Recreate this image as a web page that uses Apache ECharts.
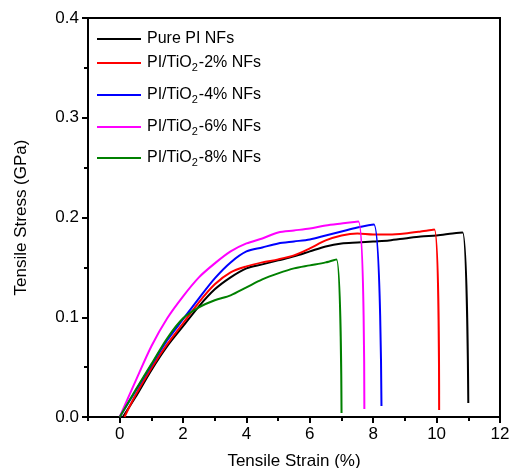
<!DOCTYPE html>
<html><head><meta charset="utf-8">
<script src="https://cdn.jsdelivr.net/npm/echarts@6/dist/echarts.min.js"></script>
<style>html,body{margin:0;padding:0;background:#fff}#c{width:511px;height:468px}</style>
</head><body><div id="c"></div>
<script>
const seriesNames = ['Pure PI NFs','PI/TiO2-2% NFs','PI/TiO2-4% NFs','PI/TiO2-6% NFs','PI/TiO2-8% NFs'];
const colors = ['#000000','#ff0000','#0000ff','#ff00ff','#008000'];
const pureX = [0.1,0.5,1.0,1.5,2.0,2.5,3.0,3.5,4.0,4.5,5.0,5.5,6.0,6.5,7.0,7.5,8.0,8.5,9.0,9.5,10.0,10.5,10.82,11.0];
const pureY = [0,0.020,0.047,0.071,0.091,0.111,0.128,0.140,0.149,0.153,0.157,0.161,0.166,0.171,0.174,0.175,0.176,0.177,0.179,0.181,0.182,0.184,0.185,0.014];
const ti2X = [0.15,0.5,1.0,1.5,2.0,2.5,3.0,3.5,4.0,4.5,5.0,5.5,6.0,6.5,7.0,7.5,8.0,8.5,9.0,9.5,9.93,10.08];
const ti2Y = [0,0.022,0.049,0.073,0.094,0.115,0.133,0.145,0.151,0.155,0.158,0.162,0.169,0.177,0.182,0.184,0.183,0.183,0.184,0.186,0.188,0.007];
const ti4X = [0,0.5,1.0,1.5,2.0,2.5,3.0,3.5,4.0,4.5,5.0,5.5,6.0,6.5,7.0,7.5,8.02,8.26];
const ti4Y = [0,0.026,0.052,0.077,0.098,0.119,0.139,0.155,0.166,0.170,0.174,0.176,0.178,0.182,0.186,0.190,0.193,0.011];
const ti6X = [0,0.5,1.0,1.5,2.0,2.5,3.0,3.5,4.0,4.5,5.0,5.5,6.0,6.5,7.0,7.53,7.72];
const ti6Y = [0,0.036,0.071,0.099,0.121,0.140,0.154,0.166,0.174,0.179,0.185,0.187,0.189,0.192,0.194,0.196,0.008];
const ti8X = [0,0.5,1.0,1.5,2.0,2.5,3.0,3.5,4.0,4.5,5.0,5.5,6.0,6.5,6.84,7.0];
const ti8Y = [0,0.027,0.053,0.079,0.099,0.110,0.117,0.122,0.130,0.138,0.144,0.149,0.152,0.155,0.158,0.004];
const xMajorTicks = [0,2,4,6,8,10,12];
const xMinorTicks = [-1,1,3,5,7,9,11];

const xs = [pureX, ti2X, ti4X, ti6X, ti8X];
const ys = [pureY, ti2Y, ti4Y, ti6Y, ti8Y];
const FONT = 'Liberation Sans, Arial, sans-serif';

const series = seriesNames.map((n, i) => ({
  name: n, type: 'line', symbol: 'none', smooth: 0.3,
  data: xs[i].map((x, j) => [x, ys[i][j]]),
  lineStyle: { color: colors[i], width: 2 }, itemStyle: { color: colors[i] }
}));

const legendTops = [31, 55, 87, 119, 150];
const legends = seriesNames.map((n, i) => ({
  data: [{ name: n, icon: 'rect', itemStyle: { color: colors[i] } }],
  left: 97, top: legendTops[i], orient: 'vertical', padding: 0,
  itemWidth: 44, itemHeight: 2, itemGap: 0,
  selectedMode: false,
  formatter: (name) => {
    const m = name.match(/^(PI\/TiO)2(.*)$/);
    if (m) return '{a|' + m[1] + '}{s|2}{a|' + m[2] + '}';
    return '{a|' + name + '}';
  },
  textStyle: {
    color: '#000', fontFamily: FONT,
    rich: {
      a: { fontSize: 16, fontFamily: FONT, color: '#000', padding: [0, 0, 0, 1] },
      s: { fontSize: 11, fontFamily: FONT, color: '#000', padding: [9, 0, 0, 0] }
    }
  }
}));

const chart = echarts.init(document.getElementById('c'), null, { renderer: 'canvas' });
chart.setOption({
  animation: false,
  backgroundColor: '#fff',
  grid: { left: 88, right: 11, top: 18, bottom: 51, outerBoundsMode: 'none', containLabel: false, show: true, borderColor: '#000', borderWidth: 2, backgroundColor: 'transparent' },
  legend: legends,
  xAxis: [{
    type: 'value', min: -1, max: 12, interval: 1,
    name: 'Tensile Strain (%)', nameLocation: 'middle', nameGap: 36,
    nameTextStyle: { fontSize: 17, fontFamily: FONT, color: '#000' },
    axisLine: { show: true, onZero: false, lineStyle: { color: '#000', width: 2 } },
    axisTick: { show: true, length: 6, customValues: xMajorTicks, lineStyle: { color: '#000', width: 2 } },
    axisLabel: { fontSize: 17, fontFamily: FONT, color: '#000', margin: 9, customValues: xMajorTicks },
    splitLine: { show: false }
  }, {
    type: 'value', min: -1, max: 12, interval: 1, position: 'bottom',
    axisLine: { show: false },
    axisTick: { show: true, length: 4, customValues: xMinorTicks, lineStyle: { color: '#000', width: 2 } },
    axisLabel: { show: false },
    splitLine: { show: false }
  }],
  yAxis: {
    type: 'value', min: 0, max: 0.4, interval: 0.1,
    name: 'Tensile Stress (GPa)', nameLocation: 'middle', nameGap: 58,
    nameTextStyle: { fontSize: 17, fontFamily: FONT, color: '#000' },
    axisLine: { show: true, onZero: false, lineStyle: { color: '#000', width: 2 } },
    axisTick: { show: true, length: 6, lineStyle: { color: '#000', width: 2 } },
    minorTick: { show: true, splitNumber: 2, length: 4, lineStyle: { color: '#000', width: 2 } },
    axisLabel: { fontSize: 17, fontFamily: FONT, color: '#000', margin: 9, formatter: v => v.toFixed(1) },
    splitLine: { show: false }
  },
  series: series
});
</script></body></html>
